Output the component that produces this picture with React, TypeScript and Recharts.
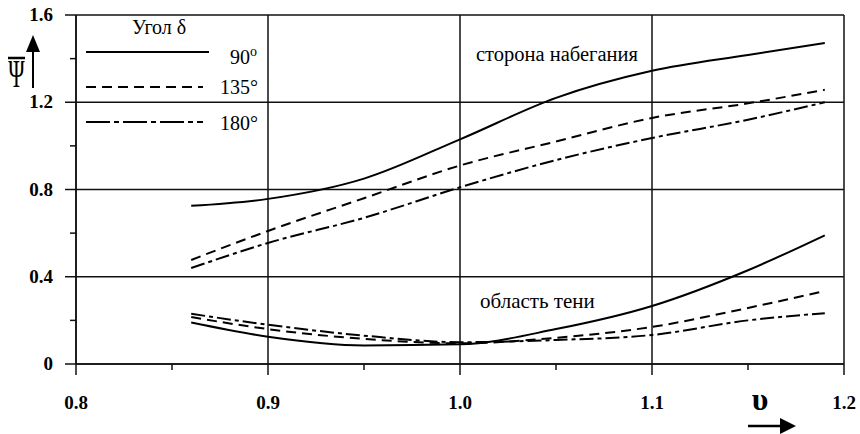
import React from 'react';
import { LineChart, Line, XAxis, YAxis, ReferenceLine } from 'recharts';

const xValues = [0.86, 0.9, 0.95, 1.0, 1.05, 1.1, 1.15, 1.19];
const upper90 = [0.725, 0.757, 0.85, 1.03, 1.22, 1.344, 1.417, 1.472];
const upper135 = [0.477, 0.61, 0.76, 0.91, 1.02, 1.128, 1.195, 1.257];
const upper180 = [0.44, 0.555, 0.67, 0.81, 0.935, 1.036, 1.12, 1.2];
const lower90 = [0.19, 0.125, 0.085, 0.09, 0.16, 0.266, 0.43, 0.59];
const lower135 = [0.215, 0.16, 0.115, 0.095, 0.12, 0.17, 0.257, 0.335];
const lower180 = [0.23, 0.18, 0.13, 0.1, 0.11, 0.133, 0.2, 0.233];

const xMajorTicks = [0.8, 0.9, 1.0, 1.1, 1.2];
const xMinorTicks = [0.85, 0.95, 1.05, 1.15];
const yMajorTicks = [0, 0.4, 0.8, 1.2, 1.6];
const yMinorTicks = [0.2, 0.6, 1.0, 1.4];

const legendTitle = 'Угол δ';
const legendLabels = ['90', '135°', '180°'];
const upperLabel = 'сторона набегания';
const lowerLabel = 'область тени';
const yTitle = 'Ψ';
const xTitle = 'υ';

const data = xValues.map((x, i) => ({
  x,
  upper90: upper90[i],
  upper135: upper135[i],
  upper180: upper180[i],
  lower90: lower90[i],
  lower135: lower135[i],
  lower180: lower180[i],
}));

const xTicksAll = [...xMajorTicks, ...xMinorTicks].sort((a, b) => a - b);
const yTicksAll = [...yMajorTicks, ...yMinorTicks].sort((a, b) => a - b);

const SERIF = "'Liberation Serif', 'Times New Roman', serif";
const serifStyle = { fontFamily: SERIF };
const isIn = (arr: number[], v: number) => arr.some((t) => Math.abs(t - v) < 1e-9);
const fmt = (v: number) => (v === 0 ? '0' : v.toFixed(1));

function XTick(props: any) {
  const { x, y, payload } = props;
  const major = isIn(xMajorTicks, payload.value);
  return (
    <g>
      <line x1={x} x2={x} y1={y} y2={y + (major ? 11 : 6)} stroke="#111" strokeWidth={1.5} />
      {major && (
        <text x={x} y={y + 45} textAnchor="middle" style={{ ...serifStyle, fontWeight: 'bold', fontSize: 19 }} fill="#000">
          {fmt(payload.value)}
        </text>
      )}
    </g>
  );
}

function YTick(props: any) {
  const { x, y, payload } = props;
  const major = isIn(yMajorTicks, payload.value);
  return (
    <g>
      <line x1={x - (major ? 11 : 6)} x2={x} y1={y} y2={y} stroke="#111" strokeWidth={1.5} />
      {major && (
        <text x={x - 23} y={y + 6} textAnchor="end" style={{ ...serifStyle, fontWeight: 'bold', fontSize: 19 }} fill="#000">
          {fmt(payload.value)}
        </text>
      )}
    </g>
  );
}

const DASH = '10 6';
const DASHDOT = '14 4 4 4';

export default function App() {
  return (
    <div style={{ position: 'absolute', left: 0, top: 0, width: 860, height: 434, background: '#fff' }}>
      <LineChart width={860} height={434} data={data} margin={{ top: 15, right: 16, bottom: 20, left: 0 }}>
        <XAxis
          dataKey="x"
          type="number"
          domain={[0.8, 1.2]}
          ticks={xTicksAll}
          interval={0}
          height={50}
          tickSize={0}
          tickMargin={0}
          tickLine={false}
          axisLine={{ stroke: '#111', strokeWidth: 1.5 }}
          tick={(p: any) => <XTick {...p} />}
        />
        <YAxis
          type="number"
          domain={[0, 1.6]}
          ticks={yTicksAll}
          interval={0}
          width={76}
          tickSize={0}
          tickMargin={0}
          tickLine={false}
          axisLine={{ stroke: '#111', strokeWidth: 1.5 }}
          tick={(p: any) => <YTick {...p} />}
        />
        {xMajorTicks.map((v) => (
          <ReferenceLine key={'vx' + v} x={v} stroke="#111" strokeWidth={1.5} />
        ))}
        {yMajorTicks.map((v) => (
          <ReferenceLine key={'hy' + v} y={v} stroke="#111" strokeWidth={1.5} />
        ))}
        <Line dataKey="upper90" type="monotone" stroke="#000" strokeWidth={2} dot={false} isAnimationActive={false} />
        <Line dataKey="upper135" type="monotone" stroke="#000" strokeWidth={2} strokeDasharray={DASH} dot={false} isAnimationActive={false} />
        <Line dataKey="upper180" type="monotone" stroke="#000" strokeWidth={2} strokeDasharray={DASHDOT} dot={false} isAnimationActive={false} />
        <Line dataKey="lower90" type="monotone" stroke="#000" strokeWidth={2} dot={false} isAnimationActive={false} />
        <Line dataKey="lower135" type="monotone" stroke="#000" strokeWidth={2} strokeDasharray={DASH} dot={false} isAnimationActive={false} />
        <Line dataKey="lower180" type="monotone" stroke="#000" strokeWidth={2} strokeDasharray={DASHDOT} dot={false} isAnimationActive={false} />
      </LineChart>
      <svg width={860} height={434} style={{ position: 'absolute', left: 0, top: 0, pointerEvents: 'none' }}>
        <g fill="#000">
          <text x={132} y={34} style={{ ...serifStyle, fontSize: 20 }}>{legendTitle}</text>
          <line x1={86} x2={209} y1={52} y2={52} stroke="#000" strokeWidth={2} />
          <text x={230} y={64} style={{ ...serifStyle, fontSize: 20 }}>
            {legendLabels[0]}
            <tspan dy={-8} style={{ fontSize: 14 }}>o</tspan>
          </text>
          <line x1={86} x2={203} y1={87} y2={87} stroke="#000" strokeWidth={2} strokeDasharray={DASH} />
          <text x={220} y={94} style={{ ...serifStyle, fontSize: 20 }}>{legendLabels[1]}</text>
          <line x1={86} x2={203} y1={122} y2={122} stroke="#000" strokeWidth={2} strokeDasharray="24 4 5 4" />
          <text x={220} y={130} style={{ ...serifStyle, fontSize: 20 }}>{legendLabels[2]}</text>

          <text x={476} y={61} style={{ ...serifStyle, fontSize: 20.5 }}>{upperLabel}</text>
          <text x={480} y={308} style={{ ...serifStyle, fontSize: 21 }}>{lowerLabel}</text>

          <line x1={8} x2={25} y1={58} y2={58} stroke="#000" strokeWidth={2.5} />
          <text transform="translate(16.5,87) scale(0.65,1.15)" x={0} y={0} textAnchor="middle" style={{ ...serifStyle, fontSize: 34 }}>{yTitle}</text>
          <line x1={33} x2={33} y1={88} y2={48} stroke="#000" strokeWidth={2} />
          <polygon points="26,52 40,52 33,35" fill="#000" />

          <text x={760} y={410} textAnchor="middle" style={{ ...serifStyle, fontSize: 32, fontWeight: 'bold' }}>{xTitle}</text>
          <line x1={748} x2={782} y1={426} y2={426} stroke="#000" strokeWidth={2.5} />
          <polygon points="780,418 780,434 796,426" fill="#000" />
        </g>
      </svg>
    </div>
  );
}
